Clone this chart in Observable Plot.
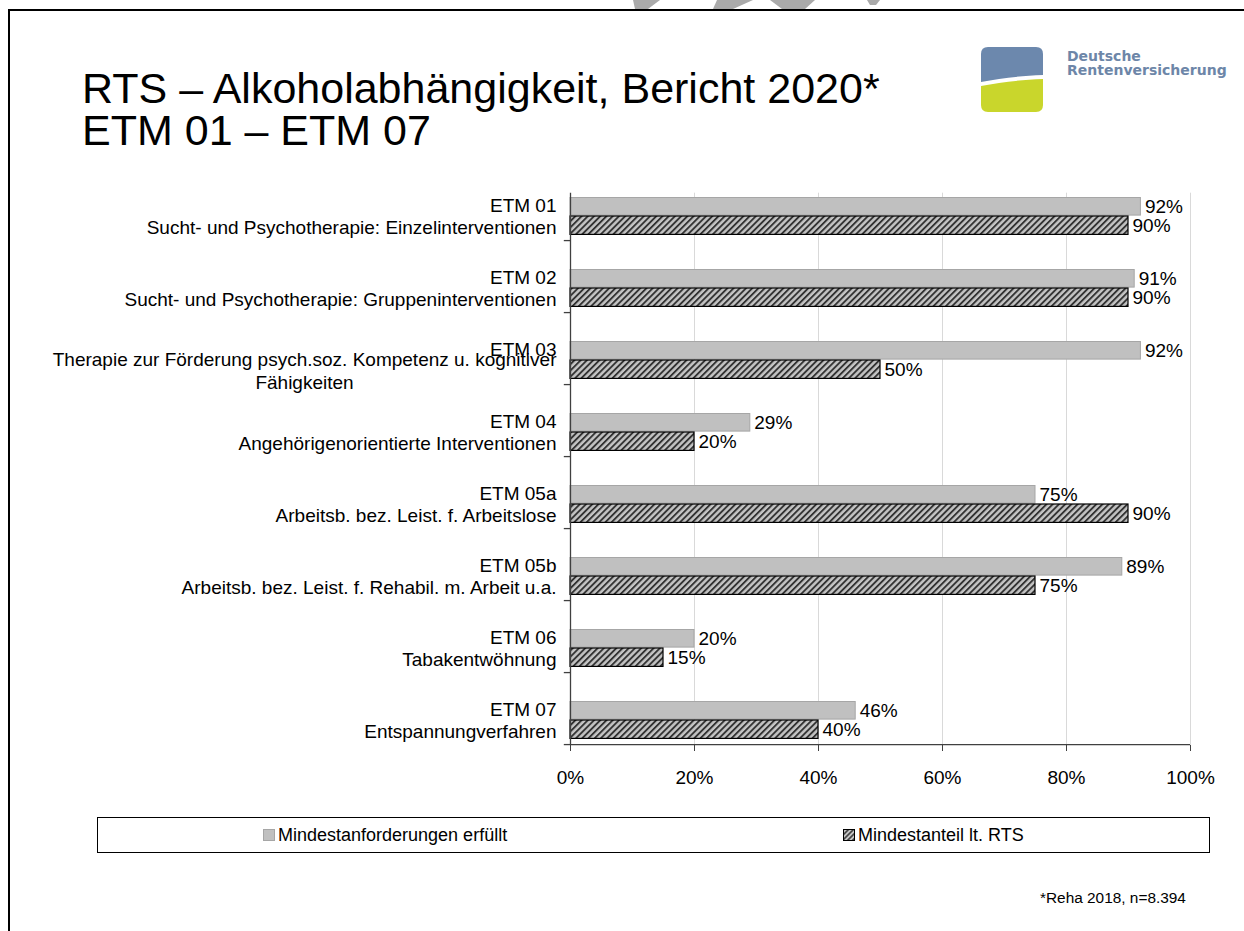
<!DOCTYPE html>
<html><head><meta charset="utf-8">
<script src="https://cdn.jsdelivr.net/npm/d3@7"></script>
<script src="https://cdn.jsdelivr.net/npm/@observablehq/plot@0.6"></script>
<style>
html,body{margin:0;background:#fff;font-family:"Liberation Sans",Arial,sans-serif;overflow:hidden;}
#page{position:relative;width:1244px;height:931px;overflow:hidden;background:#fff;}
#frame{position:absolute;left:8px;top:9px;width:1236px;height:922px;border-top:2.5px solid #000;border-left:2.5px solid #000;}
.title{position:absolute;left:82px;font-size:43px;line-height:42px;color:#000;white-space:nowrap;}
#logo{position:absolute;left:0;top:0;}
#chart{position:absolute;left:0;top:0;}
#legend{position:absolute;left:97px;top:817px;width:1111px;height:34px;border:1px solid #000;font-size:18px;}
.li{position:absolute;top:0;height:34px;line-height:34px;white-space:nowrap;}
.li svg{position:absolute;left:0;top:11px;}
.li span{position:absolute;left:15px;top:0;}
#foot{position:absolute;left:1040px;top:889px;font-size:15.4px;white-space:nowrap;}
</style></head>
<body>
<div id="page">
  <div id="frame"></div>
  <svg id="logo" width="1244" height="130">
    <g fill="#aaaaaa">
      <path d="M633,0 H660 L648,9 H635 Z"/>
      <path d="M717,0 H753 L733,9 H713 Z"/>
      <path d="M770,0 H815 L805,9 H782 Z"/>
      <path d="M867,0 H880 L876,5 H870 Z"/>
    </g>
    <path d="M988,47 H1036 Q1043,47 1043,54 V75 C1020,76 1000,78 981,82 V54 Q981,47 988,47 Z" fill="#6c88ad"/>
    <path d="M981,86 C1000,82 1020,80 1043,79 V105 Q1043,112 1036,112 H988 Q981,112 981,105 Z" fill="#c9d62c"/>
    <text x="1067" y="61" font-family="DejaVu Sans" font-weight="bold" font-size="14" fill="#6d86a8">Deutsche</text>
    <text x="1067" y="75" font-family="DejaVu Sans" font-weight="bold" font-size="14" fill="#6d86a8">Rentenversicherung</text>
  </svg>
  <div class="title" style="top:67px">RTS – Alkoholabhängigkeit, Bericht 2020*</div>
  <div class="title" style="top:109px">ETM 01 – ETM 07</div>
  <div id="chart"></div>
  <div id="legend">
    <div class="li" style="left:165px"><svg width="12" height="12"><rect x="0.5" y="0.5" width="11" height="11" fill="#c0c0c0" stroke="#a6a6a6"/></svg><span>Mindestanforderungen erfüllt</span></div>
    <div class="li" style="left:745px"><svg width="12" height="12"><defs><pattern id="hatchL" width="3.5" height="3.5" patternUnits="userSpaceOnUse" patternTransform="rotate(45)"><rect width="3.5" height="3.5" fill="#c4c4c4"/><rect width="1.5" height="3.5" fill="#333"/></pattern></defs><rect x="0.5" y="0.5" width="11" height="11" fill="url(#hatchL)" stroke="#000"/></svg><span>Mindestanteil lt. RTS</span></div>
  </div>
  <div id="foot">*Reha 2018, n=8.394</div>
</div>
<script>
const codes = ["ETM 01","ETM 02","ETM 03","ETM 04","ETM 05a","ETM 05b","ETM 06","ETM 07"];
const descriptions = [
  "Sucht- und Psychotherapie: Einzelinterventionen",
  "Sucht- und Psychotherapie: Gruppeninterventionen",
  "Therapie zur Förderung psych.soz. Kompetenz u. kognitiver",
  "Angehörigenorientierte Interventionen",
  "Arbeitsb. bez. Leist. f. Arbeitslose",
  "Arbeitsb. bez. Leist. f. Rehabil. m. Arbeit u.a.",
  "Tabakentwöhnung",
  "Entspannungverfahren"
];
const descriptionExtra = ["", "", "Fähigkeiten", "", "", "", "", ""];
const erfuellt = [92, 91, 92, 29, 75, 89, 20, 46];
const mindestanteil = [90, 90, 50, 20, 90, 75, 15, 40];
const xTicks = [0, 20, 40, 60, 80, 100];
const seriesNames = ["Mindestanforderungen erfüllt", "Mindestanteil lt. RTS"];

const rows = codes.map((c, i) => ({code: c, desc: descriptions[i], extra: descriptionExtra[i], a: erfuellt[i], b: mindestanteil[i]}));
const fmt = d => d + "%";
const half = 36.08;

const chart = Plot.plot({
  width: 1244,
  height: 800,
  marginLeft: 570,
  marginRight: 54,
  marginTop: 167.7,
  marginBottom: 55,
  style: {fontFamily: "Liberation Sans, Arial, sans-serif", fontSize: "19px", color: "#000", background: "transparent"},
  x: {domain: [0, 100]},
  y: {domain: codes, padding: 0, axis: null},
  marks: [
    Plot.ruleX(xTicks.slice(1), {stroke: "#d9d9d9", strokeWidth: 1, insetTop: 25}),
    Plot.barX(rows, {y: "code", x: "a", fill: "#c0c0c0", stroke: "#a6a6a6", strokeWidth: 1, insetTop: 29.5, insetBottom: 24.9}),
    Plot.barX(rows, {y: "code", x: "b", fill: "url(#hatch)", stroke: "#000", strokeWidth: 1.2, insetTop: 48, insetBottom: 5.6}),
    Plot.ruleX([0], {stroke: "#404040", strokeWidth: 1.3, insetTop: 25}),
    Plot.ruleY([codes[codes.length - 1]], {x1: 0, x2: 100, dy: half, stroke: "#404040", strokeWidth: 1.3}),
    Plot.ruleY(codes, {x1: -1, x2: 0, dy: half, stroke: "#404040", strokeWidth: 1.3}),
    Plot.axisX({ticks: xTicks, tickSize: 6, tickPadding: 19, fontSize: 19, tickFormat: fmt, stroke: "#404040", fill: "#000"}),
    Plot.text(rows, {y: "code", x: "a", text: d => fmt(d.a), dx: 4, dy: 2, textAnchor: "start", fontSize: 19, fill: "#000"}),
    Plot.text(rows, {y: "code", x: "b", text: d => fmt(d.b), dx: 4, dy: 21, textAnchor: "start", fontSize: 19, fill: "#000"}),
    Plot.text(rows, {y: "code", text: "code", frameAnchor: "left", dx: -14, dy: 1, textAnchor: "end", fontSize: 19, fill: "#000"}),
    Plot.text(rows.filter(d => !d.extra), {y: "code", text: "desc", frameAnchor: "left", dx: -14, dy: 23, textAnchor: "end", fontSize: 19, fill: "#000"}),
    Plot.text(rows.filter(d => d.extra), {y: "code", text: "desc", frameAnchor: "left", dx: -14, dy: 11, textAnchor: "end", fontSize: 19, fill: "#000"}),
    Plot.text(rows.filter(d => d.extra), {y: "code", text: "extra", frameAnchor: "left", dx: -266, dy: 34.5, textAnchor: "middle", fontSize: 19, fill: "#000"})
  ]
});
d3.select(chart).insert("defs", ":first-child").html(
  '<pattern id="hatch" width="4.4" height="4.4" patternUnits="userSpaceOnUse" patternTransform="rotate(45)">' +
  '<rect width="4.4" height="4.4" fill="#c4c4c4"/><rect width="1.9" height="4.4" fill="#333"/></pattern>'
);
d3.select(chart).style("overflow", "visible");
document.getElementById("chart").appendChild(chart);
</script>
</body></html>
